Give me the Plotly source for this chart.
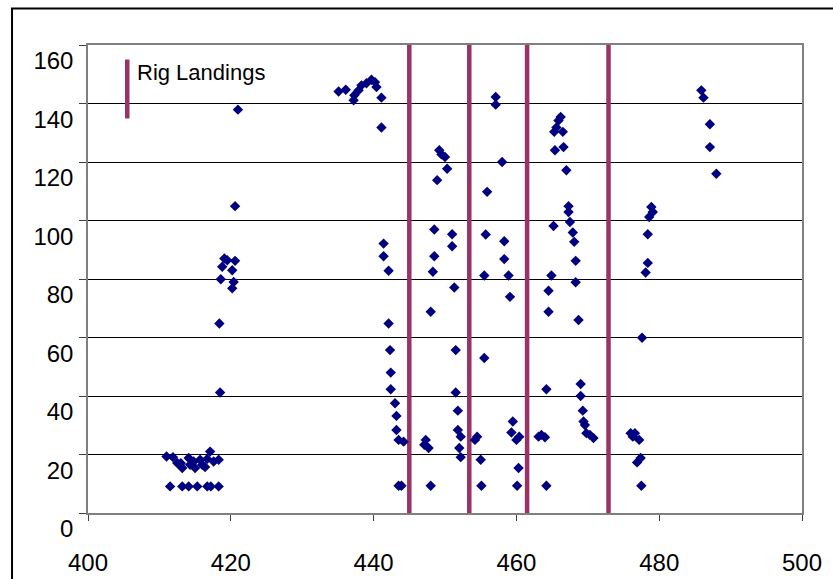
import plotly.graph_objects as go

# ---- data ----
group_a_x = [411.0, 411.9, 412.5, 413.0, 413.2, 414.1, 414.3, 414.8, 415.0, 415.7, 416.0, 416.4, 416.7, 417.1, 417.6, 418.3,
             411.5, 413.2, 414.1, 415.3, 416.7, 417.2, 418.3,
             418.5, 418.4, 418.6, 418.8, 419.1, 419.5, 420.6, 420.2, 420.4, 420.2, 420.6, 421.0]
group_a_y = [19.3, 19.1, 17.1, 17.0, 15.4, 18.8, 16.5, 17.6, 15.4, 18.2, 16.5, 15.7, 18.5, 21.0, 17.6, 18.2,
             9.1, 9.1, 9.1, 9.1, 9.1, 9.1, 9.1,
             41.2, 64.8, 79.9, 84.2, 87.0, 86.4, 86.2, 83.0, 79.0, 76.8, 104.9, 137.9]

group_b_x = [435.1, 436.1, 437.2, 437.3, 437.9, 438.3, 439.0, 439.7, 440.2, 440.4, 441.1, 441.1,
             441.4, 441.4, 442.1, 442.1, 442.3, 442.4, 442.4, 443.0, 443.2, 443.2, 443.5, 444.2, 443.5, 443.9]
group_b_y = [144.1, 144.7, 141.1, 142.8, 144.5, 146.2, 146.9, 148.1, 147.3, 145.6, 142.0, 131.8,
             92.1, 87.8, 82.8, 64.8, 55.7, 48.0, 42.3, 37.5, 33.2, 28.4, 25.0, 24.4, 9.3, 9.3]

group_c_x = [447.3, 447.7, 447.1, 448.0, 448.0, 448.3, 448.5, 448.5, 448.9, 449.2, 449.5, 450.0, 450.3,
             451.0, 451.0, 451.3, 451.5, 451.5, 451.8, 451.8, 452.2, 452.0, 452.2]
group_c_y = [25.0, 22.2, 23.3, 9.3, 68.8, 82.5, 87.8, 96.9, 113.8, 124.0, 122.6, 121.7, 117.7,
             95.3, 91.2, 77.1, 55.7, 41.2, 35.0, 28.4, 26.1, 22.2, 19.1]

group_d_x = [454.2, 454.5, 455.0, 455.1, 455.5, 455.5, 455.7, 455.9, 457.1, 457.1, 458.0, 458.3, 458.3,
             458.9, 459.1, 459.5, 459.3, 460.0, 460.4, 460.3, 460.1]
group_d_y = [25.0, 26.1, 18.2, 9.3, 53.0, 81.2, 95.2, 109.8, 142.2, 139.6, 120.0, 92.9, 86.8,
             81.2, 73.9, 31.3, 27.5, 25.0, 26.1, 15.4, 9.3]

group_e_x = [463.1, 463.5, 464.0, 464.2, 464.2, 464.5, 464.5, 464.9, 465.2, 465.4, 465.3, 465.6, 465.9,
             466.2, 466.5, 466.6, 467.0, 467.3, 467.3, 467.5, 467.9, 468.1, 468.3, 468.3, 468.7,
             469.0, 469.0, 469.3, 469.4, 469.6, 469.8, 470.3, 470.8]
group_e_y = [26.1, 26.7, 25.9, 9.3, 42.3, 68.8, 76.0, 81.2, 98.1, 124.0, 130.3, 131.8, 134.2,
             135.4, 130.3, 125.1, 117.2, 104.9, 102.9, 99.5, 95.9, 92.7, 86.2, 78.9, 66.0,
             44.1, 40.0, 35.0, 31.3, 30.1, 27.3, 26.7, 25.6]

group_f_x = [476.0, 476.6, 477.2, 476.3, 476.9, 477.4, 477.5, 477.6, 478.1, 478.4, 478.4, 478.6, 479.1,
             478.9, 485.9, 486.2, 487.1, 487.1, 488.0]
group_f_y = [27.3, 27.3, 25.0, 26.1, 17.3, 18.8, 9.3, 59.9, 82.2, 85.5, 95.3, 101.2, 102.9,
             104.6, 144.5, 142.0, 132.9, 125.1, 116.0]

rig_landings = [445.0, 453.4, 461.5, 472.9]
x_ticks = [400, 420, 440, 460, 480, 500]
y_ticks = [0, 20, 40, 60, 80, 100, 120, 140, 160]
legend_label = "Rig Landings"

# ---- figure ----
px_all = group_a_x + group_b_x + group_c_x + group_d_x + group_e_x + group_f_x
py_all = group_a_y + group_b_y + group_c_y + group_d_y + group_e_y + group_f_y

rig_x, rig_y = [], []
for v in rig_landings:
    rig_x += [v, v, None]
    rig_y += [y_ticks[0], y_ticks[-1], None]

FONT = "Liberation Sans, Arial, sans-serif"
RIG_COLOR = "#993366"

fig = go.Figure()
fig.add_trace(go.Scatter(x=rig_x, y=rig_y, mode="lines",
                         line=dict(color=RIG_COLOR, width=4.5),
                         showlegend=False, hoverinfo="skip"))
fig.add_trace(go.Scatter(x=px_all, y=py_all, mode="markers",
                         marker=dict(symbol="diamond", size=8, color="#000080",
                                     line=dict(width=0)),
                         showlegend=False, cliponaxis=False))

# legend: vertical bar + label
fig.add_shape(type="line", xref="paper", yref="paper",
              x0=0.055, x1=0.055, y0=0.843, y1=0.969,
              line=dict(color=RIG_COLOR, width=4.5))
fig.add_annotation(text=legend_label, xref="paper", yref="paper",
                   x=0.066, y=0.941, xanchor="left", yanchor="middle",
                   showarrow=False, font=dict(family=FONT, size=22, color="black"))

# outer chart border
fig.add_shape(type="rect", xref="paper", yref="paper",
              x0=-0.1064, x1=1.5, y0=-0.5, y1=1.078,
              line=dict(color="black", width=2), layer="below")

fig.update_layout(
    width=833, height=579,
    margin=dict(l=88, r=31, t=45, b=66, autoexpand=False),
    paper_bgcolor="white", plot_bgcolor="white",
    font=dict(family=FONT, color="black"),
    showlegend=False,
)
fig.update_xaxes(range=[400, 500], tickvals=x_ticks, showgrid=False, zeroline=False,
                 showline=True, linecolor="#808080", linewidth=1.5, mirror=True,
                 ticks="outside", ticklen=6, tickcolor="#404040", tickwidth=1,
                 tickfont=dict(family=FONT, size=24, color="black"),
                 ticklabelstandoff=21, automargin=False)
fig.update_yaxes(range=[0, 160], tickvals=y_ticks, showgrid=True, gridcolor="black",
                 gridwidth=1, zeroline=False,
                 showline=True, linecolor="#808080", linewidth=1.5, mirror=True,
                 ticks="outside", ticklen=7, tickcolor="#404040", tickwidth=1,
                 tickfont=dict(family=FONT, size=24, color="black"),
                 ticklabelshift=16, ticklabelstandoff=1, automargin=False)

fig.write_html("out.html")
